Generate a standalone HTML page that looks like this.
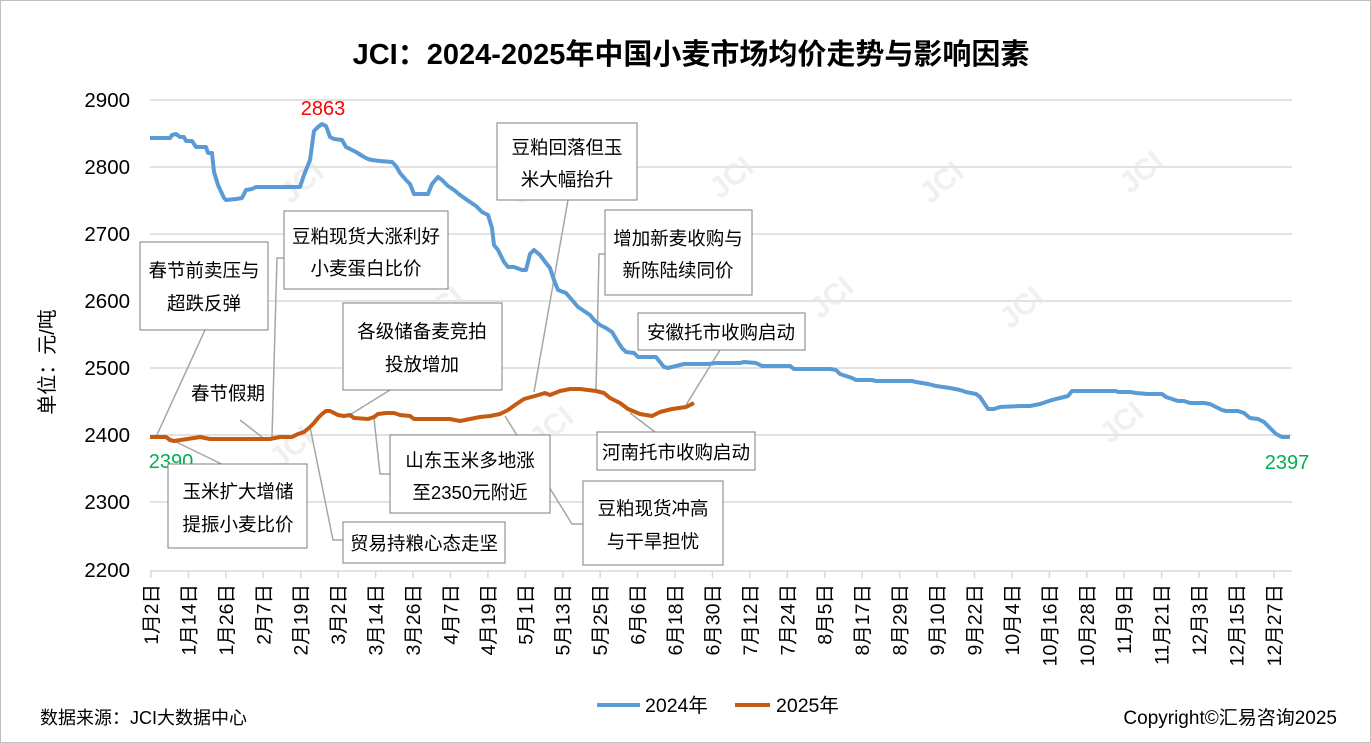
<!DOCTYPE html>
<html><head><meta charset="utf-8"><style>
body{margin:0;background:#fff}
svg{display:block;font-family:"Liberation Sans","Noto Sans CJK SC",sans-serif}
.b{fill:#fff;stroke:#7f7f7f;stroke-width:1}
.t{font-size:18.5px;fill:#000}
.ld{stroke:#a6a6a6;stroke-width:1.5;fill:none}
.wm{font-size:30px;fill:#e6e6e6;font-weight:bold}
</style></head><body>
<svg width="1371" height="743" viewBox="0 0 1371 743">
<rect x="0.5" y="0.5" width="1370" height="742" fill="#fff" stroke="#bfbfbf"/>
<text x="691" y="64" text-anchor="middle" font-size="29" font-weight="bold">JCI：2024-2025年中国小麦市场均价走势与影响因素</text>
<g stroke="#d9d9d9" stroke-width="1.5">
<line x1="150" y1="100" x2="1292" y2="100"/><line x1="150" y1="167" x2="1292" y2="167"/><line x1="150" y1="234" x2="1292" y2="234"/><line x1="150" y1="301" x2="1292" y2="301"/><line x1="150" y1="368" x2="1292" y2="368"/><line x1="150" y1="435" x2="1292" y2="435"/><line x1="150" y1="502" x2="1292" y2="502"/><line x1="150" y1="571" x2="1292" y2="571"/>
</g>
<g id="ticks" stroke="#d9d9d9" stroke-width="1.5"></g>
<g font-size="20.5" text-anchor="end">
<text x="130" y="107">2900</text><text x="130" y="174">2800</text><text x="130" y="241">2700</text><text x="130" y="308">2600</text><text x="130" y="375">2500</text><text x="130" y="442">2400</text><text x="130" y="509">2300</text><text x="130" y="577">2200</text>
</g>
<text transform="translate(54,362) rotate(-90)" text-anchor="middle" font-size="20">单位：元/吨</text>
<g id="xl" font-size="19.5"></g>
<g opacity="0.6">
<g transform="translate(290,205) rotate(-40)"><text class="wm">JCI</text></g>
<g transform="translate(720,200) rotate(-40)"><text class="wm">JCI</text></g>
<g transform="translate(1130,195) rotate(-40)"><text class="wm">JCI</text></g>
<g transform="translate(930,205) rotate(-40)"><text class="wm">JCI</text></g>
<g transform="translate(520,205) rotate(-40)"><text class="wm">JCI</text></g>
<g transform="translate(430,330) rotate(-40)"><text class="wm">JCI</text></g>
<g transform="translate(820,320) rotate(-40)"><text class="wm">JCI</text></g>
<g transform="translate(1010,330) rotate(-40)"><text class="wm">JCI</text></g>
<g transform="translate(280,470) rotate(-40)"><text class="wm">JCI</text></g>
<g transform="translate(540,450) rotate(-40)"><text class="wm">JCI</text></g>
<g transform="translate(1110,445) rotate(-40)"><text class="wm">JCI</text></g>
</g>
<polyline class="ld" points="205,330 156,437"/>
<polyline class="ld" points="284,258 277,258 272,437"/>
<polyline class="ld" points="390,390 348,416"/>
<polyline class="ld" points="240,420 262,437"/>
<polyline class="ld" points="568,200 534,392"/>
<polyline class="ld" points="605,254 599,254 596,391"/>
<polyline class="ld" points="720,350 686,405"/>
<polyline class="ld" points="655,432 630,413"/>
<polyline class="ld" points="390,474 380,474 374,418"/>
<polyline class="ld" points="583,524 572,524 505,416"/>
<polyline class="ld" points="238,472 172,440"/>
<polyline class="ld" points="343,540 333,540 310,427"/>
<polyline fill="none" stroke="#5b9bd5" stroke-width="4" stroke-linejoin="round" points="150,138 170,138 172,135 176,134 180,137 184,137 186,141 192,141 196,147 206,147 208,153 212,153 214,172 218,185 224,198 226,200 236,199 242,198 246,190 252,189 256,187 300,187 304,175 310,160 314,131 318,127 322,124 326,126 330,137 334,139 342,140 346,147 352,150 356,152 364,157 368,159 372,160 380,161 392,162 396,166 400,173 406,180 410,184 414,194 428,194 432,184 438,177 442,180 448,186 454,190 460,195 470,202 476,206 482,212 488,215 492,228 494,245 498,250 504,262 508,267 514,267 522,270 526,270 530,254 534,250 540,255 546,263 550,268 554,280 558,290 566,293 572,300 578,307 584,311 590,315 594,320 600,325 606,328 612,332 618,342 622,348 626,352 634,353 638,357 656,357 660,362 664,367 668,368 676,366 684,364 708,364 716,363 740,363 744,362 756,363 762,366 790,366 794,369 830,369 836,370 840,374 852,378 856,380 872,380 876,381 912,381 916,382 928,384 936,386 950,388 960,390 966,392 976,394 980,397 986,406 988,409 994,409 1000,407 1020,406 1030,406 1040,404 1046,402 1052,400 1060,398 1068,396 1072,391 1116,391 1118,392 1130,392 1136,393 1148,394 1162,394 1166,397 1178,401 1184,401 1190,403 1204,403 1210,404 1216,407 1222,410 1226,411 1238,411 1244,413 1250,418 1258,419 1264,422 1270,428 1276,434 1282,437 1290,437"/>
<polyline fill="none" stroke="#c55a11" stroke-width="4" stroke-linejoin="round" points="150,437 166,437 170,440 174,441 194,438 200,437 210,439 270,439 280,437 292,437 298,434 304,432 310,427 314,423 318,418 322,414 326,411 330,411 334,413 338,415 344,416 350,415 354,418 368,419 374,417 378,414 386,413 394,413 400,415 410,416 414,419 450,419 460,421 470,419 480,417 490,416 500,414 508,410 515,405 524,399 535,396 545,393 550,395 560,391 570,389 580,389 596,391 604,393 610,398 620,403 628,409 640,414 652,416 660,412 672,409 686,407 694,403"/>
<text x="323" y="115" fill="#ff0000" font-size="20" text-anchor="middle">2863</text>
<text x="171" y="468" fill="#00b050" font-size="20" text-anchor="middle">2390</text>
<text x="1287" y="469" fill="#00b050" font-size="20" text-anchor="middle">2397</text>
<rect class="b" x="140" y="242" width="128" height="88"/><text class="t" x="204" y="277" text-anchor="middle">春节前卖压与</text><text class="t" x="204" y="310" text-anchor="middle">超跌反弹</text>
<rect class="b" x="284" y="211" width="164" height="78"/><text class="t" x="366" y="243" text-anchor="middle">豆粕现货大涨利好</text><text class="t" x="366" y="275" text-anchor="middle">小麦蛋白比价</text>
<rect class="b" x="343" y="303" width="159" height="87"/><text class="t" x="422" y="338" text-anchor="middle">各级储备麦竞拍</text><text class="t" x="422" y="371" text-anchor="middle">投放增加</text>
<text class="t" x="228" y="400" text-anchor="middle">春节假期</text>
<rect class="b" x="497" y="123" width="140" height="77"/><text class="t" x="567" y="154" text-anchor="middle">豆粕回落但玉</text><text class="t" x="567" y="186" text-anchor="middle">米大幅抬升</text>
<rect class="b" x="605" y="210" width="147" height="85"/><text class="t" x="678" y="245" text-anchor="middle">增加新麦收购与</text><text class="t" x="678" y="277" text-anchor="middle">新陈陆续同价</text>
<rect class="b" x="638" y="313" width="167" height="37"/><text class="t" x="721" y="339" text-anchor="middle">安徽托市收购启动</text>
<rect class="b" x="597" y="432" width="158" height="38"/><text class="t" x="676" y="459" text-anchor="middle">河南托市收购启动</text>
<rect class="b" x="390" y="435" width="160" height="78"/><text class="t" x="470" y="467" text-anchor="middle">山东玉米多地涨</text><text class="t" x="470" y="499" text-anchor="middle">至2350元附近</text>
<rect class="b" x="583" y="481" width="140" height="84"/><text class="t" x="653" y="515" text-anchor="middle">豆粕现货冲高</text><text class="t" x="653" y="548" text-anchor="middle">与干旱担忧</text>
<rect class="b" x="168" y="464" width="139" height="84"/><text class="t" x="238" y="498" text-anchor="middle">玉米扩大增储</text><text class="t" x="238" y="531" text-anchor="middle">提振小麦比价</text>
<rect class="b" x="343" y="522" width="162" height="41"/><text class="t" x="424" y="550" text-anchor="middle">贸易持粮心态走坚</text>
<line x1="597" y1="705" x2="640" y2="705" stroke="#5b9bd5" stroke-width="4"/><text x="645" y="712" font-size="19.5">2024年</text>
<line x1="735" y1="705" x2="770" y2="705" stroke="#c55a11" stroke-width="4"/><text x="776" y="712" font-size="19.5">2025年</text>
<text x="40" y="724" font-size="18">数据来源：JCI大数据中心</text>
<text x="1337" y="724" font-size="19" text-anchor="end">Copyright©汇易咨询2025</text>
</svg>
<script>
var L=["1月2日","1月14日","1月26日","2月7日","2月19日","3月2日","3月14日","3月26日","4月7日","4月19日","5月1日","5月13日","5月25日","6月6日","6月18日","6月30日","7月12日","7月24日","8月5日","8月17日","8月29日","9月10日","9月22日","10月4日","10月16日","10月28日","11月9日","11月21日","12月3日","12月15日","12月27日"];
var ns="http://www.w3.org/2000/svg",g=document.getElementById("xl"),tk=document.getElementById("ticks");
L.forEach(function(s,i){var x=151+i*37.43;
var l=document.createElementNS(ns,"line");l.setAttribute("x1",x);l.setAttribute("x2",x);l.setAttribute("y1",571);l.setAttribute("y2",578);tk.appendChild(l);
var t=document.createElementNS(ns,"text");t.setAttribute("transform","translate("+(x+7)+",584) rotate(-90)");t.setAttribute("text-anchor","end");t.textContent=s;g.appendChild(t);});
</script>
</body></html>
